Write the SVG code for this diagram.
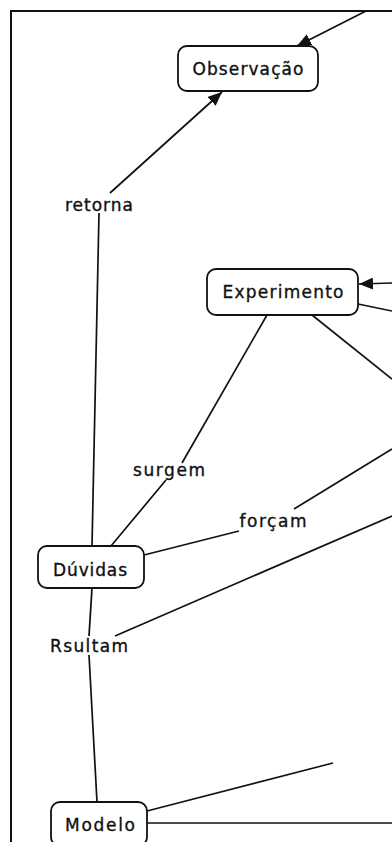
<svg xmlns="http://www.w3.org/2000/svg" width="392" height="842" viewBox="0 0 392 842">
  <style>
    .node rect { fill: #ffffff; stroke: #111111; stroke-width: 1.8; }
    .node text, .label { font-family: "DejaVu Sans", Verdana, sans-serif; font-size: 17px; fill: #111111; stroke: #111111; stroke-width: 0.35; }
    .node text { text-anchor: middle; }
    .label { text-anchor: middle; }
    #connectors line { stroke: #111111; stroke-width: 1.7; fill: none; }
    .arrow { marker-end: url(#head); }
  </style>
  <defs>
    <marker id="head" viewBox="0 0 14 12" refX="14" refY="6" markerWidth="14" markerHeight="12" markerUnits="userSpaceOnUse" orient="auto">
      <path d="M0,0 L14,6 L0,12 Z" fill="#111111"/>
    </marker>
  </defs>

  <rect width="392" height="842" fill="#ffffff"/>
  <!-- frame -->
  <path d="M11,842 V11 H392" fill="none" stroke="#111111" stroke-width="2"/>

  <g id="connectors">
    <line class="arrow" x1="366" y1="11" x2="297" y2="46"/>
    <line class="arrow" x1="110" y1="193" x2="222" y2="92"/>
    <line x1="99" y1="213" x2="92" y2="546"/>
    <line x1="267" y1="315" x2="182" y2="463"/>
    <line x1="166" y1="480" x2="111" y2="546"/>
    <line x1="144" y1="555" x2="239" y2="531"/>
    <line x1="294" y1="509" x2="392" y2="449"/>
    <line x1="312" y1="315" x2="392" y2="379"/>
    <line class="arrow" x1="392" y1="283" x2="359" y2="284"/>
    <line x1="358" y1="304" x2="392" y2="311"/>
    <line x1="115" y1="636" x2="392" y2="516"/>
    <line x1="92" y1="588" x2="89" y2="636"/>
    <line x1="89" y1="655" x2="97" y2="802"/>
    <line x1="147" y1="811" x2="333" y2="763"/>
    <line x1="147" y1="823" x2="392" y2="823"/>
  </g>

  <g id="node-observacao" class="node">
    <rect x="178" y="46" width="140" height="45" rx="9"/>
    <text x="248" y="75" textLength="111" lengthAdjust="spacing">Observação</text>
  </g>
  <g id="node-experimento" class="node">
    <rect x="207" y="269" width="151" height="46" rx="9"/>
    <text x="283" y="298" textLength="121" lengthAdjust="spacing">Experimento</text>
  </g>
  <g id="node-duvidas" class="node">
    <rect x="38" y="546" width="106" height="42" rx="9"/>
    <text x="90" y="576" textLength="74" lengthAdjust="spacing">Dúvidas</text>
  </g>
  <g id="node-modelo" class="node">
    <rect x="51" y="802" width="96" height="44" rx="9"/>
    <text x="100" y="831" textLength="70" lengthAdjust="spacing">Modelo</text>
  </g>

  <g id="labels">
    <text class="label" x="99" y="211" textLength="68" lengthAdjust="spacing">retorna</text>
    <text class="label" x="169" y="476" textLength="72" lengthAdjust="spacing">surgem</text>
    <text class="label" x="273" y="527" textLength="67" lengthAdjust="spacing">forçam</text>
    <text class="label" x="89" y="652" textLength="78" lengthAdjust="spacing">Rsultam</text>
  </g>
</svg>
